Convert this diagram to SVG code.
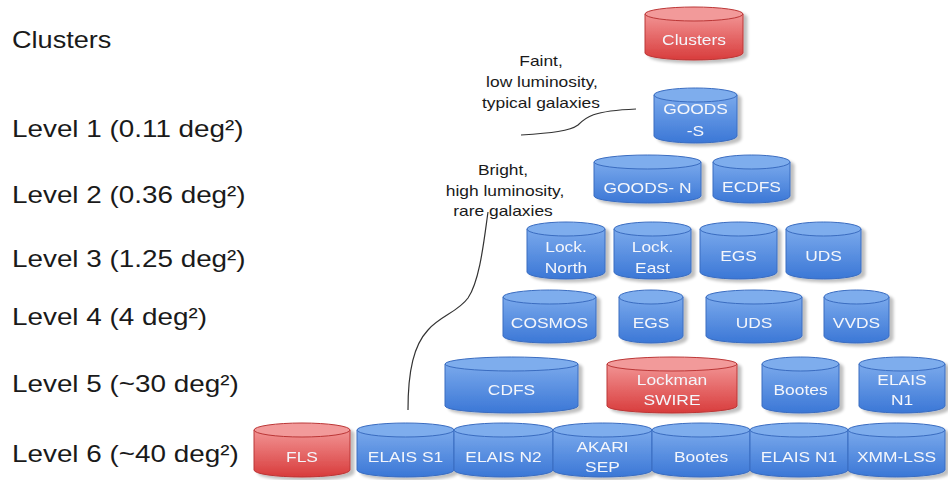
<svg xmlns="http://www.w3.org/2000/svg" width="948" height="480" viewBox="0 0 948 480">
<defs>
<linearGradient id="gb" x1="0" y1="0" x2="0" y2="1"><stop offset="0" stop-color="#7aa9ec"/><stop offset="1" stop-color="#3b77d6"/></linearGradient>
<linearGradient id="gr" x1="0" y1="0" x2="0" y2="1"><stop offset="0" stop-color="#f29494"/><stop offset="1" stop-color="#d83c3c"/></linearGradient>
<filter id="sh" x="-10%" y="-10%" width="130%" height="130%"><feGaussianBlur in="SourceAlpha" stdDeviation="1.5"/><feOffset dx="4" dy="3" result="o"/><feComponentTransfer><feFuncA type="linear" slope="0.25"/></feComponentTransfer><feMerge><feMergeNode/><feMergeNode in="SourceGraphic"/></feMerge></filter>
<style>
.b .body{fill:url(#gb);stroke:#3a6cc0;stroke-width:1}
.b ellipse{fill:#7eaded;stroke:#3a6cc0;stroke-width:1}
.r .body{fill:url(#gr);stroke:#bb3636;stroke-width:1}
.r ellipse{fill:#f29a9a;stroke:#bb3636;stroke-width:1}
.node{filter:url(#sh)}
.t{font-family:"Liberation Sans",Arial,sans-serif;font-size:15px;fill:#f4f6fb;text-anchor:middle}
.lv{font-family:"Liberation Sans",Arial,sans-serif;font-size:24px;fill:#1a1a1a}
.an{font-family:"Liberation Sans",Arial,sans-serif;font-size:15px;fill:#1a1a1a;text-anchor:middle}
.cn{fill:none;stroke:#333;stroke-width:1.2}
</style>
</defs>
<rect width="948" height="480" fill="#ffffff"/>

<g id="level-labels">
<text class="lv" transform="translate(12,48) scale(1.13,1)">Clusters</text>
<text class="lv" transform="translate(12,137) scale(1.16,1)">Level 1 (0.11 deg²)</text>
<text class="lv" transform="translate(12,203) scale(1.16,1)">Level 2 (0.36 deg²)</text>
<text class="lv" transform="translate(12,267) scale(1.16,1)">Level 3 (1.25 deg²)</text>
<text class="lv" transform="translate(12,325) scale(1.16,1)">Level 4 (4 deg²)</text>
<text class="lv" transform="translate(12,392) scale(1.16,1)">Level 5 (~30 deg²)</text>
<text class="lv" transform="translate(12,462) scale(1.16,1)">Level 6 (~40 deg²)</text>
</g>

<g id="annotations">
<text class="an" transform="translate(541,66) scale(1.16,1)">Faint,</text>
<text class="an" transform="translate(542,87) scale(1.16,1)">low luminosity,</text>
<text class="an" transform="translate(541,108) scale(1.16,1)">typical galaxies</text>
<text class="an" transform="translate(503,175) scale(1.16,1)">Bright,</text>
<text class="an" transform="translate(505,196) scale(1.16,1)">high luminosity,</text>
<text class="an" transform="translate(503,216) scale(1.16,1)">rare galaxies</text>
</g>

<g id="connectors">
<path class="cn" d="M521,135 C552,133 570,131 578,125 C586,117 592,111 636,109"/>
<path class="cn" d="M488,212 C484,240 480,280 468,298 C458,312 440,316 428,330 C414,345 408,370 408,410"/>
</g>

<g id="clusters" class="node r">
<path class="body" d="M645,14 L645,53 A49,7 0 0 0 743,53 L743,14 Z"/><ellipse cx="694" cy="14" rx="49" ry="7"/>
<text class="t" transform="translate(694,45) scale(1.16,1)">Clusters</text>
</g>

<g id="goods-s" class="node b">
<path class="body" d="M654,95 L654,136 A41.5,7 0 0 0 737,136 L737,95 Z"/><ellipse cx="695.5" cy="95" rx="41.5" ry="7"/>
<text class="t" transform="translate(695.5,114) scale(1.16,1)">GOODS</text>
<text class="t" transform="translate(695.5,136) scale(1.16,1)">-S</text>
</g>

<g id="goods-n" class="node b">
<path class="body" d="M594,162 L594,196 A53.5,7 0 0 0 701,196 L701,162 Z"/><ellipse cx="647.5" cy="162" rx="53.5" ry="7"/>
<text class="t" transform="translate(647.5,193) scale(1.16,1)">GOODS- N</text>
</g>
<g id="ecdfs" class="node b">
<path class="body" d="M713,162 L713,196 A38.5,7 0 0 0 790,196 L790,162 Z"/><ellipse cx="751.5" cy="162" rx="38.5" ry="7"/>
<text class="t" transform="translate(751.5,192) scale(1.16,1)">ECDFS</text>
</g>

<g id="lock-north" class="node b">
<path class="body" d="M527,229 L527,272 A39,7 0 0 0 605,272 L605,229 Z"/><ellipse cx="566" cy="229" rx="39" ry="7"/>
<text class="t" transform="translate(566,252) scale(1.16,1)">Lock.</text>
<text class="t" transform="translate(566,273) scale(1.16,1)">North</text>
</g>
<g id="lock-east" class="node b">
<path class="body" d="M614,229 L614,272 A38.5,7 0 0 0 691,272 L691,229 Z"/><ellipse cx="652.5" cy="229" rx="38.5" ry="7"/>
<text class="t" transform="translate(652.5,252) scale(1.16,1)">Lock.</text>
<text class="t" transform="translate(652.5,273) scale(1.16,1)">East</text>
</g>
<g id="egs-3" class="node b">
<path class="body" d="M700,229 L700,272 A38.5,7 0 0 0 777,272 L777,229 Z"/><ellipse cx="738.5" cy="229" rx="38.5" ry="7"/>
<text class="t" transform="translate(738.5,261) scale(1.16,1)">EGS</text>
</g>
<g id="uds-3" class="node b">
<path class="body" d="M786,229 L786,272 A37.5,7 0 0 0 861,272 L861,229 Z"/><ellipse cx="823.5" cy="229" rx="37.5" ry="7"/>
<text class="t" transform="translate(823.5,261) scale(1.16,1)">UDS</text>
</g>

<g id="cosmos" class="node b">
<path class="body" d="M503,297 L503,336 A46.5,7 0 0 0 596,336 L596,297 Z"/><ellipse cx="549.5" cy="297" rx="46.5" ry="7"/>
<text class="t" transform="translate(549.5,328) scale(1.16,1)">COSMOS</text>
</g>
<g id="egs-4" class="node b">
<path class="body" d="M619,297 L619,336 A32,7 0 0 0 683,336 L683,297 Z"/><ellipse cx="651" cy="297" rx="32" ry="7"/>
<text class="t" transform="translate(651,328) scale(1.16,1)">EGS</text>
</g>
<g id="uds-4" class="node b">
<path class="body" d="M706,297 L706,336 A48,7 0 0 0 802,336 L802,297 Z"/><ellipse cx="754" cy="297" rx="48" ry="7"/>
<text class="t" transform="translate(754,328) scale(1.16,1)">UDS</text>
</g>
<g id="vvds" class="node b">
<path class="body" d="M824,297 L824,336 A32.5,7 0 0 0 889,336 L889,297 Z"/><ellipse cx="856.5" cy="297" rx="32.5" ry="7"/>
<text class="t" transform="translate(856.5,328) scale(1.16,1)">VVDS</text>
</g>

<g id="cdfs" class="node b">
<path class="body" d="M445,364 L445,406 A66.5,7 0 0 0 578,406 L578,364 Z"/><ellipse cx="511.5" cy="364" rx="66.5" ry="7"/>
<text class="t" transform="translate(511.5,395) scale(1.16,1)">CDFS</text>
</g>
<g id="lockman-swire" class="node r">
<path class="body" d="M607,364 L607,406 A65,7 0 0 0 737,406 L737,364 Z"/><ellipse cx="672" cy="364" rx="65" ry="7"/>
<text class="t" transform="translate(672,385) scale(1.16,1)">Lockman</text>
<text class="t" transform="translate(672,405) scale(1.16,1)">SWIRE</text>
</g>
<g id="bootes-5" class="node b">
<path class="body" d="M762,364 L762,406 A38.5,7 0 0 0 839,406 L839,364 Z"/><ellipse cx="800.5" cy="364" rx="38.5" ry="7"/>
<text class="t" transform="translate(800.5,395) scale(1.16,1)">Bootes</text>
</g>
<g id="elais-n1-5" class="node b">
<path class="body" d="M859,364 L859,406 A43,7 0 0 0 945,406 L945,364 Z"/><ellipse cx="902" cy="364" rx="43" ry="7"/>
<text class="t" transform="translate(902,385) scale(1.16,1)">ELAIS</text>
<text class="t" transform="translate(902,405) scale(1.16,1)">N1</text>
</g>

<g id="fls" class="node r">
<path class="body" d="M254,430 L254,470 A48,7 0 0 0 350,470 L350,430 Z"/><ellipse cx="302" cy="430" rx="48" ry="7"/>
<text class="t" transform="translate(302,462) scale(1.16,1)">FLS</text>
</g>
<g id="elais-s1" class="node b">
<path class="body" d="M357,430 L357,470 A48.5,7 0 0 0 454,470 L454,430 Z"/><ellipse cx="405.5" cy="430" rx="48.5" ry="7"/>
<text class="t" transform="translate(405.5,462) scale(1.16,1)">ELAIS S1</text>
</g>
<g id="elais-n2" class="node b">
<path class="body" d="M454,430 L454,470 A49.5,7 0 0 0 553,470 L553,430 Z"/><ellipse cx="503.5" cy="430" rx="49.5" ry="7"/>
<text class="t" transform="translate(503.5,462) scale(1.16,1)">ELAIS N2</text>
</g>
<g id="akari-sep" class="node b">
<path class="body" d="M553,430 L553,470 A49.5,7 0 0 0 652,470 L652,430 Z"/><ellipse cx="602.5" cy="430" rx="49.5" ry="7"/>
<text class="t" transform="translate(602.5,452) scale(1.16,1)">AKARI</text>
<text class="t" transform="translate(602.5,472) scale(1.16,1)">SEP</text>
</g>
<g id="bootes-6" class="node b">
<path class="body" d="M652,430 L652,470 A49,7 0 0 0 750,470 L750,430 Z"/><ellipse cx="701" cy="430" rx="49" ry="7"/>
<text class="t" transform="translate(701,462) scale(1.16,1)">Bootes</text>
</g>
<g id="elais-n1-6" class="node b">
<path class="body" d="M750,430 L750,470 A49,7 0 0 0 848,470 L848,430 Z"/><ellipse cx="799" cy="430" rx="49" ry="7"/>
<text class="t" transform="translate(799,462) scale(1.16,1)">ELAIS N1</text>
</g>
<g id="xmm-lss" class="node b">
<path class="body" d="M848,430 L848,470 A48.5,7 0 0 0 945,470 L945,430 Z"/><ellipse cx="896.5" cy="430" rx="48.5" ry="7"/>
<text class="t" transform="translate(896.5,462) scale(1.16,1)">XMM-LSS</text>
</g>
</svg>
